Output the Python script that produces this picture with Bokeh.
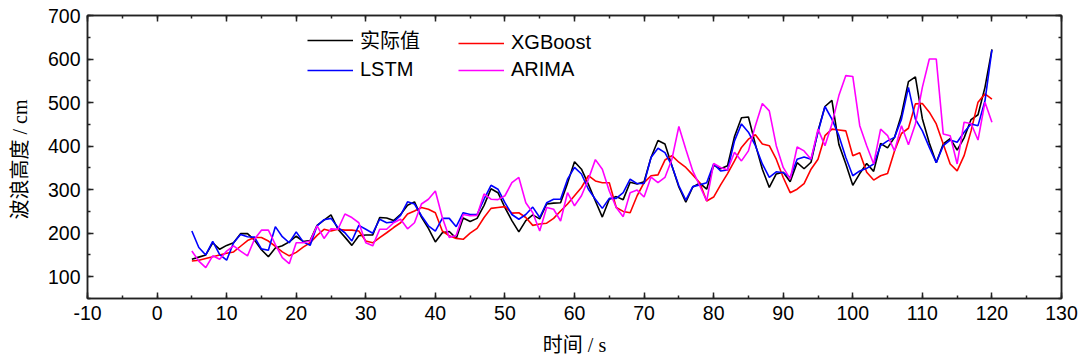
from bokeh.plotting import figure
from bokeh.models import Range1d, LinearAxis, SingleIntervalTicker, Legend, LegendItem, CustomJSTickFormatter
from bokeh.embed import file_html
from bokeh.resources import INLINE

# ---------------- data ----------------
time_s = list(range(5, 121))

actual = [140, 145, 150, 178, 163, 172, 178, 199, 199, 184, 162, 146, 166, 171, 180, 193, 181, 183, 218, 230,
          242, 209, 191, 172, 194, 196, 196, 236, 235, 229, 243, 264, 272, 237, 211, 180, 201, 204, 188, 235,
          227, 234, 264, 302, 293, 259, 229, 203, 229, 242, 233, 267, 269, 270, 315, 364, 347, 312, 274, 237,
          278, 284, 277, 317, 313, 318, 374, 413, 405, 355, 306, 271, 306, 315, 301, 356, 348, 355, 422, 465,
          467, 404, 347, 305, 336, 340, 318, 362, 348, 363, 435, 491, 505, 404, 359, 310, 337, 360, 342, 406,
          396, 420, 472, 548, 559, 463, 407, 362, 405, 417, 391, 419, 461, 472, 535, 622]

xgboost = [136, 138, 142, 146, 150, 154, 157, 170, 183, 190, 190, 182, 170, 157, 148, 156, 168, 178, 195, 209,
           205, 209, 207, 207, 205, 182, 178, 190, 201, 213, 224, 244, 251, 259, 255, 247, 205, 194, 188, 186,
           200, 211, 236, 257, 259, 261, 246, 247, 236, 218, 221, 223, 234, 251, 267, 286, 305, 332, 320, 316,
           316, 259, 250, 247, 286, 316, 332, 334, 368, 378, 363, 351, 334, 316, 274, 283, 311, 337, 366, 397,
           416, 426, 405, 401, 370, 328, 293, 301, 314, 347, 370, 424, 439, 437, 435, 378, 385, 340, 322, 332,
           337, 389, 429, 441, 497, 498, 478, 451, 405, 359, 343, 378, 435, 501, 520, 508]

lstm = [205, 167, 150, 181, 151, 138, 178, 197, 192, 191, 164, 161, 215, 192, 178, 203, 180, 172, 217, 231,
        234, 213, 201, 182, 218, 209, 200, 232, 224, 226, 241, 272, 267, 240, 217, 205, 234, 234, 215, 247,
        243, 243, 278, 310, 301, 270, 243, 232, 243, 260, 236, 270, 278, 278, 324, 351, 336, 301, 278, 257,
        280, 280, 293, 324, 314, 314, 374, 395, 385, 355, 309, 276, 307, 311, 316, 359, 343, 345, 412, 451,
        432, 401, 359, 328, 341, 339, 328, 370, 375, 370, 432, 491, 462, 424, 374, 332, 343, 349, 359, 401,
        412, 420, 462, 535, 462, 435, 397, 362, 401, 414, 409, 432, 451, 447, 504, 621]

arima = [159, 136, 121, 148, 140, 159, 171, 159, 148, 186, 207, 207, 174, 144, 130, 178, 178, 182, 217, 188,
         210, 209, 244, 236, 224, 178, 171, 209, 209, 224, 232, 210, 224, 267, 278, 297, 236, 190, 195, 243,
         240, 241, 290, 278, 277, 286, 316, 328, 270, 247, 205, 259, 255, 228, 293, 263, 286, 324, 369, 347,
         297, 259, 238, 293, 299, 283, 329, 316, 328, 370, 445, 393, 343, 309, 274, 360, 351, 345, 386, 366,
         389, 447, 498, 481, 401, 351, 324, 398, 389, 370, 439, 401, 451, 516, 562, 560, 447, 401, 359, 439,
         424, 389, 447, 403, 451, 535, 600, 600, 428, 424, 359, 455, 452, 414, 501, 455]

series_names = ["实际值", "XGBoost", "LSTM", "ARIMA"]
x_label = "时间 / s"
y_label = "波浪高度  / cm"

# ---------------- figure ----------------
SANS = "'Liberation Sans', 'Noto Sans CJK SC'"
SERIF = "'Liberation Serif', 'Noto Sans CJK SC'"
AXC = "#222222"

p = figure(width=1080, height=360, output_backend="svg", toolbar_location=None,
           x_range=Range1d(-10, 130), y_range=Range1d(50, 700),
           min_border_left=87, min_border_right=19, min_border_top=15, min_border_bottom=62,
           background_fill_color="white", border_fill_color="white")
p.grid.visible = False
p.outline_line_color = AXC
p.outline_line_width = 1.5

xt = SingleIntervalTicker(interval=10, num_minor_ticks=2)
yt = SingleIntervalTicker(interval=100, num_minor_ticks=2)
plain = CustomJSTickFormatter(code="return String(tick)")

def style_axis(ax, ticker):
    ax.ticker = ticker
    ax.axis_line_color = AXC
    ax.axis_line_width = 1.5
    ax.major_tick_line_color = AXC
    ax.minor_tick_line_color = AXC
    ax.major_tick_line_width = 1.5
    ax.minor_tick_line_width = 1.5
    ax.major_tick_in = 6
    ax.major_tick_out = 0
    ax.minor_tick_in = 3
    ax.minor_tick_out = 0
    ax.major_label_text_font = SANS
    ax.major_label_text_font_size = "19.5px"
    ax.major_label_text_color = "black"
    ax.axis_label_text_font = SERIF
    ax.axis_label_text_font_size = "20px"
    ax.axis_label_text_font_style = "normal"
    ax.axis_label_text_color = "black"

style_axis(p.xaxis[0], xt)
style_axis(p.yaxis[0], yt)
p.xaxis[0].formatter = plain
p.yaxis[0].formatter = plain
p.xaxis[0].axis_label = x_label
p.yaxis[0].axis_label = y_label
p.xaxis[0].major_label_standoff = 7
p.xaxis[0].axis_label_standoff = 11
p.yaxis[0].major_label_standoff = 7
p.yaxis[0].axis_label_standoff = 14

blank = CustomJSTickFormatter(code="return ''")
top = LinearAxis()
style_axis(top, xt)
top.formatter = blank
top.major_label_text_font_size = "1px"
top.major_label_standoff = 0
right = LinearAxis()
style_axis(right, yt)
right.formatter = blank
right.major_label_text_font_size = "1px"
right.major_label_standoff = 0
p.add_layout(top, "above")
p.add_layout(right, "right")

lw = 1.6
r_act = p.line(time_s, actual, line_color="black", line_width=lw)
r_xgb = p.line(time_s, xgboost, line_color="#ff0000", line_width=lw)
r_lstm = p.line(time_s, lstm, line_color="#0000ff", line_width=lw)
r_ar = p.line(time_s, arima, line_color="#ff00ff", line_width=lw)

def make_legend(label, rend, loc):
    lg = Legend(items=[LegendItem(label=label, renderers=[rend])], location=loc)
    lg.border_line_color = None
    lg.background_fill_alpha = 0
    lg.padding = 0
    lg.margin = 0
    lg.spacing = 0
    lg.glyph_width = 46
    lg.glyph_height = 20
    lg.label_height = 20
    lg.label_standoff = 7
    lg.label_text_font = SANS
    lg.label_text_font_size = "20px"
    lg.label_text_color = "black"
    return lg

p.add_layout(make_legend(series_names[0], r_act, (220, 244)))
p.add_layout(make_legend(series_names[2], r_lstm, (220, 217)))
p.add_layout(make_legend(series_names[1], r_xgb, (371, 244)))
p.add_layout(make_legend(series_names[3], r_ar, (371, 217)))

open("out.html", "w").write(file_html(p, INLINE))
